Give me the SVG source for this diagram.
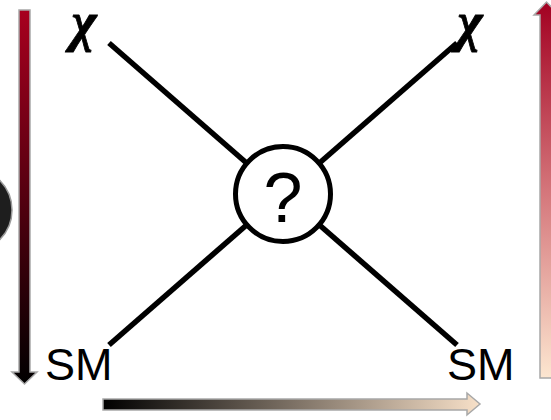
<svg xmlns="http://www.w3.org/2000/svg" width="551" height="420" viewBox="0 0 551 420">
<defs>
<linearGradient id="gLeft" x1="0" y1="0" x2="0" y2="1">
<stop offset="0" stop-color="#a8001f"/>
<stop offset="1" stop-color="#000000"/>
</linearGradient>
<linearGradient id="gRight" x1="0" y1="1" x2="0" y2="0">
<stop offset="0" stop-color="#fce6d0"/>
<stop offset="0.5" stop-color="#d4757a"/>
<stop offset="1" stop-color="#a20021"/>
</linearGradient>
<linearGradient id="gBottom" x1="0" y1="0" x2="1" y2="0">
<stop offset="0" stop-color="#000000"/>
<stop offset="1" stop-color="#f7e0c8"/>
</linearGradient>
<style>
.ax{stroke:#a8a8a8;stroke-width:1.5}
.ln{stroke:#000;stroke-width:5.5;fill:none}
.lbl{font-family:"Liberation Sans",Arial,sans-serif;font-size:45px;fill:#000}
.chi{font-family:"Liberation Serif","Times New Roman",serif;font-style:italic;font-weight:bold;font-size:54px;fill:#000;stroke:#000;stroke-width:0.8}
</style>
</defs>
<g id="edge-circle">
<circle cx="-30" cy="210" r="42" fill="#1e1e1e" stroke="#9a9a9a" stroke-width="1.5"/>
</g>
<g id="axes">
<path class="ax" d="M19,10 H30 V372 H37 L24.5,384 L12,372 H19 Z" fill="url(#gLeft)"/>
<path class="ax" d="M540,378 V15 H534 L546.5,2 L559,15 H553 V378 Z" fill="url(#gRight)"/>
<path class="ax" d="M103,399 H467 V393 L480,404 L467,415 V410 H103 Z" fill="url(#gBottom)"/>
</g>
<g id="connectors">
<line class="ln" x1="109" y1="43" x2="250" y2="166"/>
<line class="ln" x1="457" y1="43" x2="316" y2="166"/>
<line class="ln" x1="109" y1="345" x2="250" y2="222"/>
<line class="ln" x1="457" y1="345" x2="316" y2="222"/>
</g>
<g id="vertex">
<circle cx="283" cy="194" r="47.5" fill="#fff" stroke="#000" stroke-width="5"/>
<text x="283" y="222" text-anchor="middle" style="font-family:'Liberation Sans',Arial,sans-serif;font-size:70px">?</text>
</g>
<g id="chi-left"><text class="chi" x="84" y="40" text-anchor="middle">χ</text></g>
<g id="chi-right"><text class="chi" x="470" y="40" text-anchor="middle">χ</text></g>
<g id="sm-left"><text class="lbl" x="45" y="380">SM</text></g>
<g id="sm-right"><text class="lbl" x="447" y="380">SM</text></g>
</svg>
